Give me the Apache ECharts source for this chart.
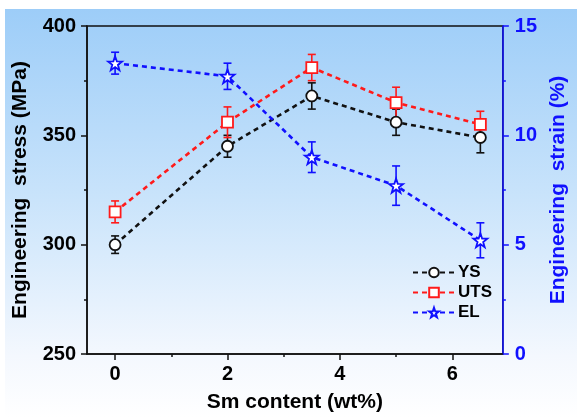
<!DOCTYPE html>
<html>
<head>
<meta charset="utf-8">
<script src="https://cdn.jsdelivr.net/npm/echarts@6/dist/echarts.min.js"></script>
<style>
  html, body { margin: 0; padding: 0; background: #ffffff; }
  #chart { width: 577px; height: 418px; }
</style>
</head>
<body>
<div id="chart"></div>
<script>
// Sm content (wt%)
const smContent = [0, 2, 3.5, 5, 6.5];
// Yield strength (MPa) and its error
const ysValues = [300, 345, 368, 356, 349];
const ysErrors = [4, 5, 6, 6, 7];
// Ultimate tensile strength (MPa) and its error
const utsValues = [315, 356, 381, 365, 355];
const utsErrors = [5, 7, 6, 7, 6];
// Elongation (%) and its error
const elValues = [13.3, 12.7, 9.0, 7.7, 5.2];
const elErrors = [0.5, 0.6, 0.7, 0.9, 0.8];

const xMajorTicks = [0, 2, 4, 6];
const xMinorTicks = [1, 3, 5];

const BLUE = '#1010ff';
const RED = '#ff1a1a';
const BLACK = '#111111';
const FONT = 'Liberation Sans, Arial, sans-serif';

const STAR = 'path://M0,-10 L2.35,-3.24 L9.51,-3.09 L3.8,1.24 L5.88,8.09 L0,4 L-5.88,8.09 L-3.8,1.24 L-9.51,-3.09 L-2.35,-3.24 Z';

function pairs(values) {
  return smContent.map((x, i) => [x, values[i]]);
}
function errorData(values, errors) {
  return smContent.map((x, i) => [x, values[i] - errors[i], values[i] + errors[i]]);
}
function errorBars(name, values, errors, color, yAxisIndex) {
  return {
    name: name,
    type: 'custom',
    yAxisIndex: yAxisIndex,
    z: 1,
    silent: true,
    data: errorData(values, errors),
    renderItem: function (params, api) {
      const x = api.value(0);
      const lo = api.coord([x, api.value(1)]);
      const hi = api.coord([x, api.value(2)]);
      const cap = 4;
      const style = { stroke: color, lineWidth: 1.6 };
      return {
        type: 'group',
        children: [
          { type: 'line', shape: { x1: lo[0], y1: lo[1], x2: hi[0], y2: hi[1] }, style: style },
          { type: 'line', shape: { x1: lo[0] - cap, y1: lo[1], x2: lo[0] + cap, y2: lo[1] }, style: style },
          { type: 'line', shape: { x1: hi[0] - cap, y1: hi[1], x2: hi[0] + cap, y2: hi[1] }, style: style }
        ]
      };
    }
  };
}
function lineSeries(name, values, color, symbol, size, yAxisIndex) {
  return {
    name: name,
    type: 'line',
    yAxisIndex: yAxisIndex,
    z: 3,
    data: pairs(values),
    symbol: symbol,
    symbolSize: size,
    showAllSymbol: true,
    lineStyle: { color: color, width: 2.6, type: [5, 4] },
    itemStyle: { color: '#ffffff', borderColor: color, borderWidth: 1.8 },
    emphasis: { disabled: true }
  };
}

const chart = echarts.init(document.getElementById('chart'), null, { renderer: 'canvas' });

chart.setOption({
  animation: false,
  backgroundColor: '#ffffff',
  graphic: [{
    type: 'rect',
    z: -10,
    silent: true,
    shape: { x: 5, y: 9, width: 572, height: 409 },
    style: {
      fill: new echarts.graphic.LinearGradient(0, 0, 0, 1, [
        { offset: 0, color: '#9dcdf8' },
        { offset: 0.45, color: '#c8e3fb' },
        { offset: 0.85, color: '#f4f8fe' },
        { offset: 1, color: '#ffffff' }
      ])
    }
  }],
  grid: {
    left: 87, right: 64, top: 26, bottom: 58,
    show: true,
    backgroundColor: 'transparent',
    borderColor: BLACK,
    borderWidth: 1.5
  },
  legend: {
    orient: 'vertical',
    left: 407,
    top: 259,
    itemWidth: 42,
    itemHeight: 12,
    itemGap: 3,
    data: ['YS', 'UTS', 'EL'],
    textStyle: { fontFamily: FONT, fontWeight: 'bold', fontSize: 17, color: '#000000', padding: [0, 0, 0, -2] }
  },
  xAxis: [{
    type: 'value',
    min: -0.5,
    max: 6.9,
    name: 'Sm content (wt%)',
    nameLocation: 'middle',
    nameGap: 38,
    nameTextStyle: { fontFamily: FONT, fontWeight: 'bold', fontSize: 21, color: '#000000' },
    axisLine: { show: true, onZero: false, lineStyle: { color: BLACK, width: 1.5 } },
    axisTick: { show: true, customValues: xMajorTicks, length: 6, lineStyle: { color: BLACK, width: 1.5 } },
    axisLabel: { customValues: xMajorTicks, fontFamily: FONT, fontWeight: 'bold', fontSize: 20, color: '#000000', margin: 10 },
    splitLine: { show: false }
  }, {
    type: 'value',
    position: 'bottom',
    min: -0.5,
    max: 6.9,
    axisLine: { show: false, onZero: false },
    axisTick: { show: true, customValues: xMinorTicks, length: 3, lineStyle: { color: BLACK, width: 1.5 } },
    axisLabel: { show: false },
    splitLine: { show: false }
  }],
  yAxis: [{
    type: 'value',
    position: 'left',
    min: 250,
    max: 400,
    interval: 50,
    name: 'Engineering  stress (MPa)',
    nameLocation: 'middle',
    nameGap: 56,
    nameTextStyle: { fontFamily: FONT, fontWeight: 'bold', fontSize: 21, color: '#000000' },
    axisLine: { show: true, onZero: false, lineStyle: { color: BLACK, width: 1.5 } },
    axisTick: { show: true, length: 6, lineStyle: { color: BLACK, width: 1.5 } },
    minorTick: { show: true, splitNumber: 2, length: 3, lineStyle: { color: BLACK, width: 1.5 } },
    axisLabel: { fontFamily: FONT, fontWeight: 'bold', fontSize: 20, color: '#000000', margin: 11 },
    splitLine: { show: false }
  }, {
    type: 'value',
    position: 'right',
    min: 0,
    max: 15,
    interval: 5,
    name: 'Engineering  strain (%)',
    nameLocation: 'middle',
    nameGap: 43,
    nameRotate: 90,
    nameTextStyle: { fontFamily: FONT, fontWeight: 'bold', fontSize: 21, color: BLUE },
    axisLine: { show: true, onZero: false, lineStyle: { color: BLUE, width: 1.5 } },
    axisTick: { show: true, length: 6, lineStyle: { color: BLUE, width: 1.5 } },
    minorTick: { show: true, splitNumber: 2, length: 3, lineStyle: { color: BLUE, width: 1.5 } },
    axisLabel: { fontFamily: FONT, fontWeight: 'bold', fontSize: 20, color: BLUE, margin: 12 },
    splitLine: { show: false }
  }],
  series: [
    errorBars('YS error', ysValues, ysErrors, BLACK, 0),
    errorBars('UTS error', utsValues, utsErrors, RED, 0),
    errorBars('EL error', elValues, elErrors, BLUE, 1),
    lineSeries('YS', ysValues, BLACK, 'circle', 11, 0),
    lineSeries('UTS', utsValues, RED, 'rect', 11, 0),
    lineSeries('EL', elValues, BLUE, STAR, 14, 1)
  ]
});
</script>
</body>
</html>
